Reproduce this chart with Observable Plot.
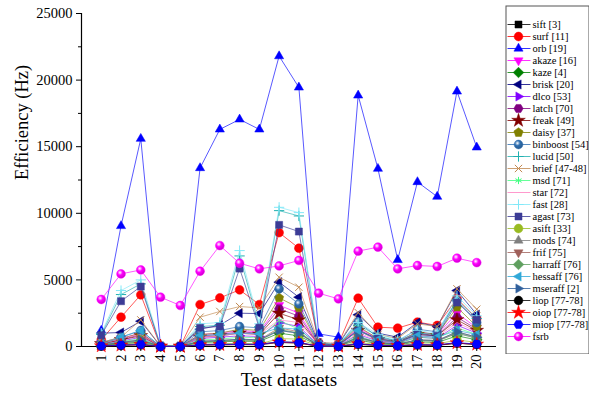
<!DOCTYPE html>
<html><head><meta charset="utf-8">
<script src="https://cdn.jsdelivr.net/npm/d3@7"></script>
<script src="https://cdn.jsdelivr.net/npm/@observablehq/plot@0.6"></script>
<style>
body{margin:0;background:#fff}
#wrap{position:relative;width:596px;height:402px;overflow:hidden}
#legend{position:absolute;left:505px;top:5px}
svg, svg text{font-family:'Liberation Serif','Times New Roman',serif !important}
</style>
</head><body><div id="wrap"><div id="chart"></div><div id="legend"></div></div>
<script>
// ---- data ----
const datasets = d3.range(1, 21);
const names = ["sift [3]","surf [11]","orb [19]","akaze [16]","kaze [4]","brisk [20]","dlco [53]","latch [70]","freak [49]","daisy [37]","binboost [54]","lucid [50]","brief [47-48]","msd [71]","star [72]","fast [28]","agast [73]","asift [33]","mods [74]","frif [75]","harraff [76]","hessaff [76]","mseraff [2]","liop [77-78]","oiop [77-78]","miop [77-78]","fsrb"];
const sift     = [60,150,200,0,0,150,180,200,180,350,300,20,15,150,80,60,90,80,250,150];
const surf     = [500,2200,3880,0,0,3150,3650,4250,3150,8550,7380,300,200,3630,1450,1380,1830,1580,3600,2100];
const orb      = [1200,9050,15600,50,30,13400,16300,17050,16300,21800,19450,950,700,18850,13350,6500,12350,11250,19150,14950];
const akaze    = [250,600,1000,10,5,900,1000,1200,1100,3100,2500,150,100,1400,600,350,1100,900,2500,1400];
const kaze     = [80,200,350,5,3,300,350,400,380,1000,800,50,30,500,200,120,350,300,800,500];
const brisk    = [1000,1050,1900,20,10,1300,1600,2500,2470,4830,3700,250,150,2380,1000,700,1800,1500,4200,2400];
const dlco     = [150,400,700,10,5,600,700,800,750,1800,1500,100,60,900,400,250,700,600,1600,1000];
const latch    = [200,500,900,10,5,800,900,1100,1000,2830,2280,120,80,1300,500,300,1000,800,2200,1300];
const freak    = [200,500,800,10,5,700,800,1000,900,2500,2000,120,80,1200,500,300,900,800,2000,1200];
const daisy    = [250,600,1000,15,10,900,1000,1300,1200,3650,2900,150,100,1500,600,350,1100,900,2950,1500];
const binboost = [300,700,1200,20,10,1100,1200,1500,1400,4330,3200,200,100,1830,700,400,1300,1100,3450,1800];
const lucid    = [900,3900,4700,40,20,1500,1600,6800,1500,10200,9800,250,150,1600,800,400,1000,900,3500,2100];
const brief    = [300,700,2000,20,10,2200,2630,3000,2900,5200,4450,300,200,2550,900,600,1700,1500,4330,2800];
const msd      = [150,350,600,8,5,500,550,700,650,1950,1300,80,50,800,300,200,700,600,1400,900];
const star     = [200,600,900,10,5,700,800,1000,900,2000,1800,150,100,1000,500,300,800,700,1800,1100];
const fast     = [1000,4200,5000,50,30,1700,1800,7200,1700,10450,10050,300,200,1800,900,500,1200,1000,3800,2300];
const agast    = [850,3400,4500,30,20,1400,1500,5850,1400,9130,8630,200,100,1200,600,300,900,800,3300,2000];
const asift    = [50,150,200,5,3,150,180,200,180,600,550,30,20,300,150,80,200,180,500,300];
const mods     = [100,250,400,5,3,350,400,450,420,1200,1000,60,40,600,250,150,450,400,1000,600];
const frif     = [120,300,500,5,3,400,450,550,500,1400,1100,70,50,700,300,180,500,450,1100,700];
const harraff  = [100,250,450,5,3,350,400,500,450,1300,1000,60,40,650,280,170,450,400,1000,650];
const hessaff  = [150,700,1200,5,3,800,900,1000,950,1400,1300,100,60,1200,500,300,800,700,1200,900];
const mseraff  = [100,300,500,5,3,400,450,550,500,1200,1000,60,40,700,300,180,500,450,1100,700];
const liop     = [30,80,120,3,2,100,120,140,130,300,250,20,15,180,80,50,120,100,250,150];
const oiop     = [35,90,130,3,2,110,130,150,140,320,260,20,15,190,90,55,130,110,260,160];
const miop     = [40,100,150,3,2,120,140,160,150,350,300,25,20,200,100,60,140,120,300,180];
const fsrb     = [3530,5450,5750,3700,3080,5650,7580,6250,5830,6050,6460,4000,3580,7160,7460,5830,6080,6010,6630,6300];
const values = [sift,surf,orb,akaze,kaze,brisk,dlco,latch,freak,daisy,binboost,lucid,brief,msd,star,fast,agast,asift,mods,frif,harraff,hessaff,mseraff,liop,oiop,miop,fsrb];
const colors = ["#000000","#ff0000","#0000ff","#ff00ff","#008000","#000080","#8000ff","#800080","#800000","#808000","#2f6fb0","#20b0b0","#c08850","#40ff80","#ff80c0","#80e8f8","#3c3c96","#99bb22","#808080","#a0605a","#5f9f5f","#30a8d8","#30609c","#000000","#ff0000","#0000ff","#ff00ff"];
const symbolKeys = ["square","circle","triUp","triDown","diamond","triLeft","triRight","hexagon","star","pentagon","sphere","plus","times","asterisk","none","plus","square","circle","triUp","triDown","diamond","triLeft","triRight","circle","star","hexagon","sphere"];
const yTicks = d3.range(0, 25001, 2500);

// ---- symbols ----
const poly = (n, rot, k = 0.68) => ({draw(ctx, size) {
  const r = Math.sqrt(size) * k;
  for (let i = 0; i < n; ++i) {
    const a = rot + 2 * Math.PI * i / n;
    i ? ctx.lineTo(r * Math.cos(a), r * Math.sin(a)) : ctx.moveTo(r * Math.cos(a), r * Math.sin(a));
  }
  ctx.closePath();
}});
const SYM = {
  square: poly(4, Math.PI / 4, 0.64), triUp: poly(3, -Math.PI / 2), triDown: poly(3, Math.PI / 2),
  triLeft: poly(3, Math.PI), triRight: poly(3, 0), diamond: poly(4, -Math.PI / 2, 0.68),
  hexagon: poly(6, 0, 0.6), pentagon: poly(5, -Math.PI / 2, 0.62),
  circle: "circle", sphere: "circle", star: "star", plus: "plus", times: "times", asterisk: "asterisk"
};
const strokeOnly = new Set(["plus","times","asterisk"]);
const font = "'Liberation Serif', 'Times New Roman', serif";

function seriesMarks(rows, i, prefix) {
  const key = symbolKeys[i], c = colors[i];
  if (key === "none") return [];
  const so = strokeOnly.has(key);
  const fill = so ? "none" : (key === "sphere" ? `url(#${prefix}g${i})` : c);
  const r = so ? 3.4 : key === "star" ? 4.3 : 4.4;
  return [Plot.dot(rows, {x: "x", y: "y", symbol: SYM[key], r, fill, stroke: c, strokeWidth: so ? 1 : 0.5})];
}

function addGradients(svg, prefix) {
  const defs = d3.select(svg).insert("defs", ":first-child");
  symbolKeys.forEach((k, i) => {
    if (k !== "sphere") return;
    const g = defs.append("radialGradient").attr("id", `${prefix}g${i}`).attr("cx", "38%").attr("cy", "35%").attr("r", "65%");
    g.append("stop").attr("offset", "0%").attr("stop-color", "#ffffff");
    g.append("stop").attr("offset", "45%").attr("stop-color", colors[i]);
    g.append("stop").attr("offset", "100%").attr("stop-color", d3.color(colors[i]).darker(0.6));
  });
}

// ---- main chart ----
const marks = [];
values.forEach((vals, i) => {
  const rows = vals.map((v, j) => ({x: datasets[j], y: v}));
  marks.push(Plot.line(rows, {x: "x", y: "y", stroke: colors[i], strokeWidth: 1, strokeOpacity: 0.65}));
  marks.push(...seriesMarks(rows, i, "m"));
});

const chart = Plot.plot({
  width: 596, height: 402,
  marginLeft: 81, marginRight: 100, marginTop: 13, marginBottom: 56,
  style: {fontFamily: font, fontSize: "14.5px", color: "#000", background: "#fff"},
  x: {domain: [0, 21], label: null},
  y: {domain: [0, 25000], label: null},
  marks: [
    Plot.ruleY([0], {stroke: "#000", strokeWidth: 1.2}),
    Plot.ruleX([0], {y1: 0, y2: 25000, stroke: "#000", strokeWidth: 1.2}),
    Plot.axisX({ticks: datasets, tickRotate: -90, tickSize: 5, tickPadding: 3, label: null, fontSize: 14.5, fontFamily: font}),
    Plot.axisY({ticks: yTicks.filter(d => d % 5000 === 0), tickSize: 5, tickPadding: 4, label: null, fontSize: 14.5, fontFamily: font, tickFormat: d => String(d)}),
    Plot.axisY({ticks: yTicks.filter(d => d % 5000 !== 0), tickSize: 3, label: null, tickFormat: () => ""}),
    Plot.text(["Efficiency (Hz)"], {frameAnchor: "left", text: d => d, rotate: -90, dx: -59, fontSize: 18.5, fontFamily: font, fill: "#000"}),
    Plot.text(["Test datasets"], {frameAnchor: "bottom", text: d => d, dy: 39, fontSize: 19, fontFamily: font, fill: "#000"}),
    ...marks
  ]
});
addGradients(chart, "m");
document.getElementById("chart").appendChild(chart);

// ---- legend ----
const lrows = names.map((n, i) => ({name: n, i}));
const lmarks = [Plot.frame({stroke: "#555", inset: 0.5})];
lrows.forEach((d, i) => {
  lmarks.push(Plot.link([d], {x1: 2, x2: 25, y1: "name", y2: "name", stroke: colors[i], strokeWidth: 1, strokeOpacity: 0.8}));
  lmarks.push(...seriesMarks([{x: 13, y: d.name}], i, "l"));
});
lmarks.push(Plot.text(lrows, {x: 27, y: "name", text: "name", textAnchor: "start", fontSize: 10.5, fontFamily: font, fill: "#000"}));
const legend = Plot.plot({
  width: 84, height: 349, margin: 0,
  style: {fontFamily: font, background: "transparent"},
  x: {domain: [0, 84], range: [0, 84], axis: null},
  y: {type: "point", domain: names, range: [9, 341], axis: null},
  marks: lmarks
});
addGradients(legend, "l");
document.getElementById("legend").appendChild(legend);
</script></body></html>
